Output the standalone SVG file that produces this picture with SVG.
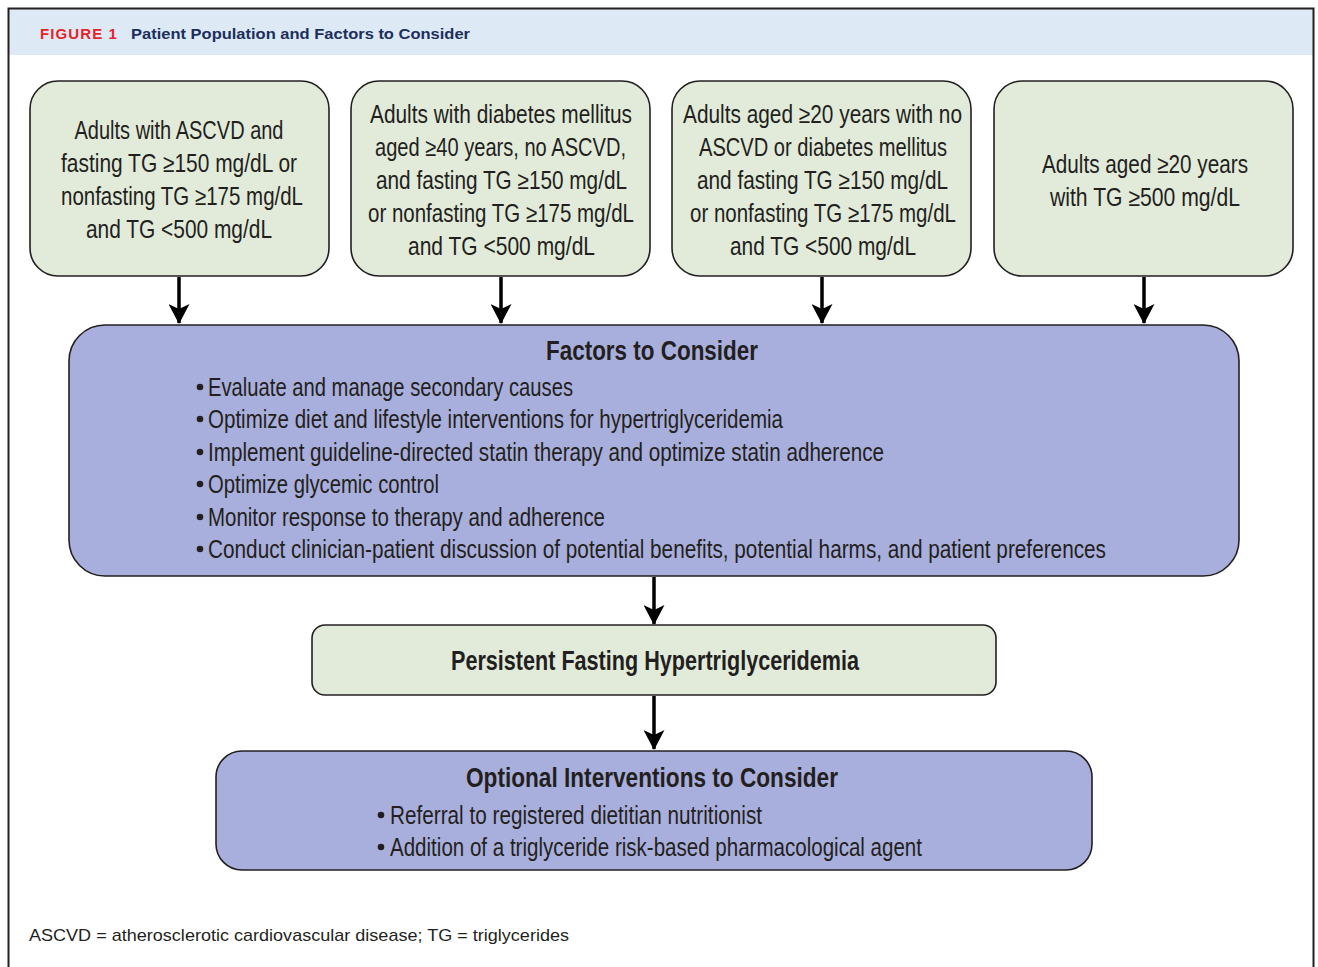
<svg xmlns="http://www.w3.org/2000/svg" width="1318" height="967" viewBox="0 0 1318 967">
<defs>
<style>
.g{fill:#e2ebda;stroke:#231f20;stroke-width:1.6}
.p{fill:#a9afdc;stroke:#231f20;stroke-width:1.6}
text{font-family:"Liberation Sans",Arial,sans-serif;fill:#231f20}
.t{font-size:25px;text-anchor:middle}
.b{font-size:25px}
.h{font-size:27px;font-weight:bold;text-anchor:middle}
.c{stroke:#000;stroke-width:3.5;fill:none}
</style>
<marker id="ah" viewBox="0 0 20 21" refX="19" refY="10.5" markerWidth="20" markerHeight="21" markerUnits="userSpaceOnUse" orient="auto">
<path d="M0,0 L20,10.5 L0,21 L5,10.5 z" fill="#000"/>
</marker>
</defs>
<rect x="0" y="0" width="1318" height="967" fill="#fff"/>
<rect x="9" y="9" width="1304" height="46" fill="#dde9f5"/>
<path d="M8.5,975 V8.5 H1313.5 V975" fill="none" stroke="#231f20" stroke-width="2"/>
<g id="header">
<text x="40" y="39" style="font-size:14px;font-weight:bold;fill:#e3242b;letter-spacing:1px" textLength="78" lengthAdjust="spacingAndGlyphs">FIGURE 1</text>
<text x="131" y="39" style="font-size:15.5px;font-weight:bold;fill:#1c2f5c" textLength="339" lengthAdjust="spacingAndGlyphs">Patient Population and Factors to Consider</text>
</g>
<g id="connectors">
<line class="c" x1="179" y1="277" x2="179" y2="323" marker-end="url(#ah)"/>
<line class="c" x1="501" y1="277" x2="501" y2="323" marker-end="url(#ah)"/>
<line class="c" x1="822" y1="277" x2="822" y2="323" marker-end="url(#ah)"/>
<line class="c" x1="1144" y1="277" x2="1144" y2="323" marker-end="url(#ah)"/>
<line class="c" x1="654" y1="577" x2="654" y2="624" marker-end="url(#ah)"/>
<line class="c" x1="654" y1="696" x2="654" y2="749" marker-end="url(#ah)"/>
</g>
<g id="box1">
<rect class="g" x="30" y="81" width="299" height="195" rx="28"/>
<text class="t" x="179" y="139" textLength="209" lengthAdjust="spacingAndGlyphs">Adults with ASCVD and</text>
<text class="t" x="179" y="172" textLength="236" lengthAdjust="spacingAndGlyphs">fasting TG ≥150 mg/dL or</text>
<text class="t" x="182" y="205" textLength="242" lengthAdjust="spacingAndGlyphs">nonfasting TG ≥175 mg/dL</text>
<text class="t" x="179" y="238" textLength="186" lengthAdjust="spacingAndGlyphs">and TG &lt;500 mg/dL</text>
</g>
<g id="box2">
<rect class="g" x="351" y="81" width="299" height="195" rx="28"/>
<text class="t" x="501" y="123" textLength="262" lengthAdjust="spacingAndGlyphs">Adults with diabetes mellitus</text>
<text class="t" x="500.5" y="156" textLength="251" lengthAdjust="spacingAndGlyphs">aged ≥40 years, no ASCVD,</text>
<text class="t" x="501.5" y="189" textLength="251" lengthAdjust="spacingAndGlyphs">and fasting TG ≥150 mg/dL</text>
<text class="t" x="501" y="222" textLength="266" lengthAdjust="spacingAndGlyphs">or nonfasting TG ≥175 mg/dL</text>
<text class="t" x="501.5" y="255" textLength="187" lengthAdjust="spacingAndGlyphs">and TG &lt;500 mg/dL</text>
</g>
<g id="box3">
<rect class="g" x="672" y="81" width="299" height="195" rx="28"/>
<text class="t" x="822.5" y="123" textLength="279" lengthAdjust="spacingAndGlyphs">Adults aged ≥20 years with no</text>
<text class="t" x="823" y="156" textLength="248" lengthAdjust="spacingAndGlyphs">ASCVD or diabetes mellitus</text>
<text class="t" x="822.5" y="189" textLength="251" lengthAdjust="spacingAndGlyphs">and fasting TG ≥150 mg/dL</text>
<text class="t" x="823" y="222" textLength="266" lengthAdjust="spacingAndGlyphs">or nonfasting TG ≥175 mg/dL</text>
<text class="t" x="823" y="255" textLength="186" lengthAdjust="spacingAndGlyphs">and TG &lt;500 mg/dL</text>
</g>
<g id="box4">
<rect class="g" x="994" y="81" width="299" height="195" rx="28"/>
<text class="t" x="1145" y="173" textLength="206" lengthAdjust="spacingAndGlyphs">Adults aged ≥20 years</text>
<text class="t" x="1145" y="206" textLength="190" lengthAdjust="spacingAndGlyphs">with TG ≥500 mg/dL</text>
</g>
<g id="factors">
<rect class="p" x="69" y="325" width="1170" height="251" rx="36"/>
<text class="h" x="652" y="360" textLength="212" lengthAdjust="spacingAndGlyphs">Factors to Consider</text>
<g class="bul">
<circle cx="200" cy="387" r="3.3" fill="#231f20"/>
<text class="b" x="208" y="396" textLength="365" lengthAdjust="spacingAndGlyphs">Evaluate and manage secondary causes</text>
<circle cx="200" cy="419" r="3.3" fill="#231f20"/>
<text class="b" x="208" y="428" textLength="575" lengthAdjust="spacingAndGlyphs">Optimize diet and lifestyle interventions for hypertriglyceridemia</text>
<circle cx="200" cy="452" r="3.3" fill="#231f20"/>
<text class="b" x="208" y="461" textLength="676" lengthAdjust="spacingAndGlyphs">Implement guideline-directed statin therapy and optimize statin adherence</text>
<circle cx="200" cy="484" r="3.3" fill="#231f20"/>
<text class="b" x="208" y="493" textLength="231" lengthAdjust="spacingAndGlyphs">Optimize glycemic control</text>
<circle cx="200" cy="517" r="3.3" fill="#231f20"/>
<text class="b" x="208" y="526" textLength="397" lengthAdjust="spacingAndGlyphs">Monitor response to therapy and adherence</text>
<circle cx="200" cy="549" r="3.3" fill="#231f20"/>
<text class="b" x="208" y="558" textLength="898" lengthAdjust="spacingAndGlyphs">Conduct clinician-patient discussion of potential benefits, potential harms, and patient preferences</text>
</g>
</g>
<g id="persistent">
<rect class="g" x="312" y="625" width="684" height="70" rx="13"/>
<text class="h" x="655" y="670" textLength="408" lengthAdjust="spacingAndGlyphs">Persistent Fasting Hypertriglyceridemia</text>
</g>
<g id="optional">
<rect class="p" x="216" y="751" width="876" height="119" rx="26"/>
<text class="h" x="652" y="787" textLength="372" lengthAdjust="spacingAndGlyphs">Optional Interventions to Consider</text>
<circle cx="381" cy="815" r="3.3" fill="#231f20"/>
<text class="b" x="390" y="824" textLength="372" lengthAdjust="spacingAndGlyphs">Referral to registered dietitian nutritionist</text>
<circle cx="381" cy="847" r="3.3" fill="#231f20"/>
<text class="b" x="390" y="856" textLength="532" lengthAdjust="spacingAndGlyphs">Addition of a triglyceride risk-based pharmacological agent</text>
</g>
<g id="footer">
<text x="29" y="941" style="font-size:17px" textLength="540" lengthAdjust="spacingAndGlyphs">ASCVD = atherosclerotic cardiovascular disease; TG = triglycerides</text>
</g>
</svg>
